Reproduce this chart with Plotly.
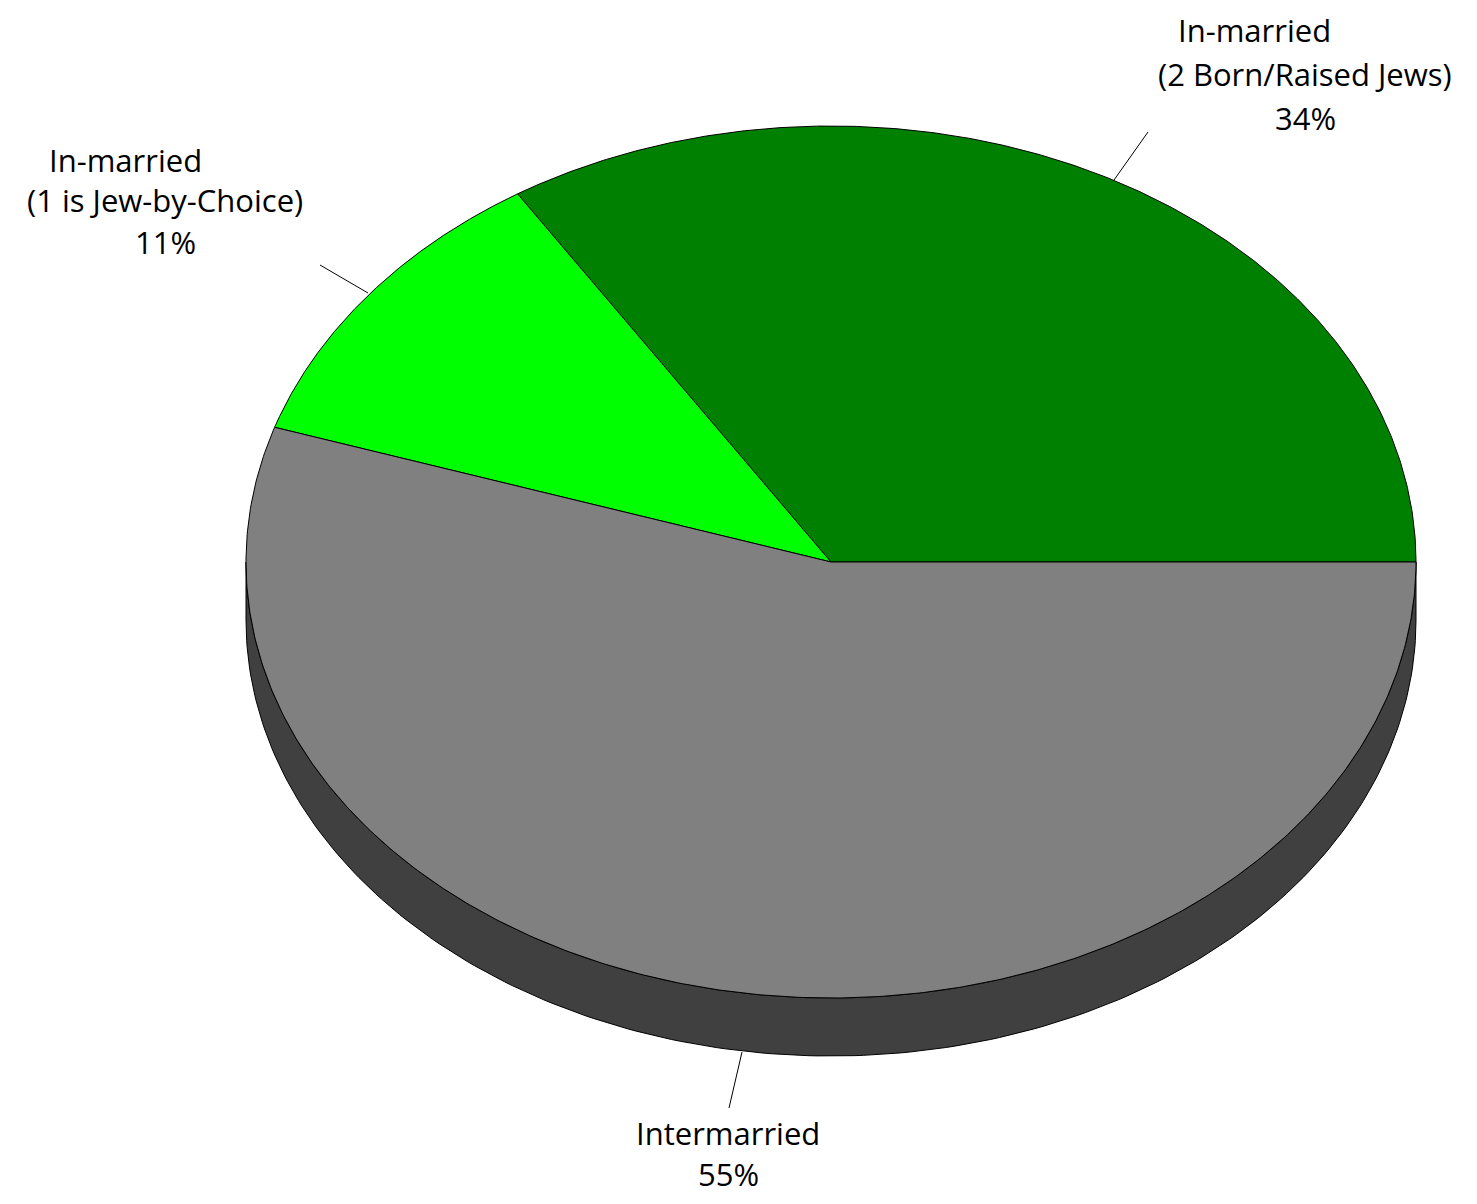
import numpy as np
import plotly.graph_objects as go

# ---- data ----
categories = ["In-married (2 Born/Raised Jews)", "In-married (1 is Jew-by-Choice)", "Intermarried"]
values = [34, 11, 55]
top_colors = ["#008000", "#00FF00", "#808080"]
side_colors = ["#004000", "#008000", "#404040"]
label_lines = [
    ["In-married", "(2 Born/Raised Jews)", "34%"],
    ["In-married", "(1 is Jew-by-Choice)", "11%"],
    ["Intermarried", "55%"],
]

OFF = 8                                # page body margin in the browser
W, H = 1477 - 2 * OFF, 1204 - 2 * OFF
CX, CY, RX, RY = 831, 562, 585, 436    # pixel geometry of ellipse (window coords)
DEPTH = 58 / RY                        # depth in data units

def to_data(px, py):
    return (px - CX) / RX, (CY - py) / RY

fig = go.Figure()
total = sum(values)
angles = np.cumsum([0] + values) / total * 2 * np.pi

# sides (visible lower half only)
for i in range(len(values)):
    a, b = angles[i], angles[i + 1]
    lo, hi = max(a, np.pi), min(b, 2 * np.pi)
    if hi <= lo:
        continue
    t = np.linspace(lo, hi, 200)
    xs = np.concatenate([np.cos(t), np.cos(t[::-1])])
    ys = np.concatenate([np.sin(t), np.sin(t[::-1]) - DEPTH])
    xs = np.append(xs, xs[0]); ys = np.append(ys, ys[0])
    fig.add_trace(go.Scatter(x=xs, y=ys, fill="toself", fillcolor=side_colors[i],
                             mode="lines", line=dict(color="black", width=1),
                             hoverinfo="skip", showlegend=False))

# tops
for i in range(len(values)):
    a, b = angles[i], angles[i + 1]
    t = np.linspace(a, b, 400)
    xs = np.concatenate([[0], np.cos(t), [0]])
    ys = np.concatenate([[0], np.sin(t), [0]])
    fig.add_trace(go.Scatter(x=xs, y=ys, fill="toself", fillcolor=top_colors[i],
                             mode="lines", line=dict(color="black", width=1),
                             name=categories[i], hoverinfo="name", showlegend=False))

# label layout (pixel positions of line centres) and leader lines
label_pos = [
    [(1254, 30), (1305, 74), (1305, 118)],
    [(125, 160), (165, 200), (165, 242)],
    [(728, 1133), (728, 1174)],
]
leaders = [((1148, 132), (1114, 180)), ((320, 265), (368, 293)), ((742, 1052), (729, 1108))]

annotations = []
for lines, poss in zip(label_lines, label_pos):
    for txt, (px, py) in zip(lines, poss):
        x, y = to_data(px, py)
        annotations.append(dict(x=x, y=y, xref="x", yref="y", text=txt, showarrow=False,
                                xanchor="center", yanchor="middle", borderpad=0,
                                font=dict(family="Open Sans", size=31, color="black")))
shapes = []
for (p0, p1) in leaders:
    x0, y0 = to_data(*p0); x1, y1 = to_data(*p1)
    shapes.append(dict(type="line", x0=x0, y0=y0, x1=x1, y1=y1, xref="x", yref="y",
                       line=dict(color="black", width=1)))

x0, _ = to_data(OFF, 0); x1, _ = to_data(OFF + W, 0)
_, ytop = to_data(0, OFF); _, ybot = to_data(0, OFF + H)
fig.update_layout(
    width=W, height=H, margin=dict(l=0, r=0, t=0, b=0),
    paper_bgcolor="white", plot_bgcolor="white",
    xaxis=dict(range=[x0, x1], visible=False, fixedrange=True),
    yaxis=dict(range=[ybot, ytop], visible=False, fixedrange=True),
    annotations=annotations, shapes=shapes,
)
fig.write_html("out.html")
